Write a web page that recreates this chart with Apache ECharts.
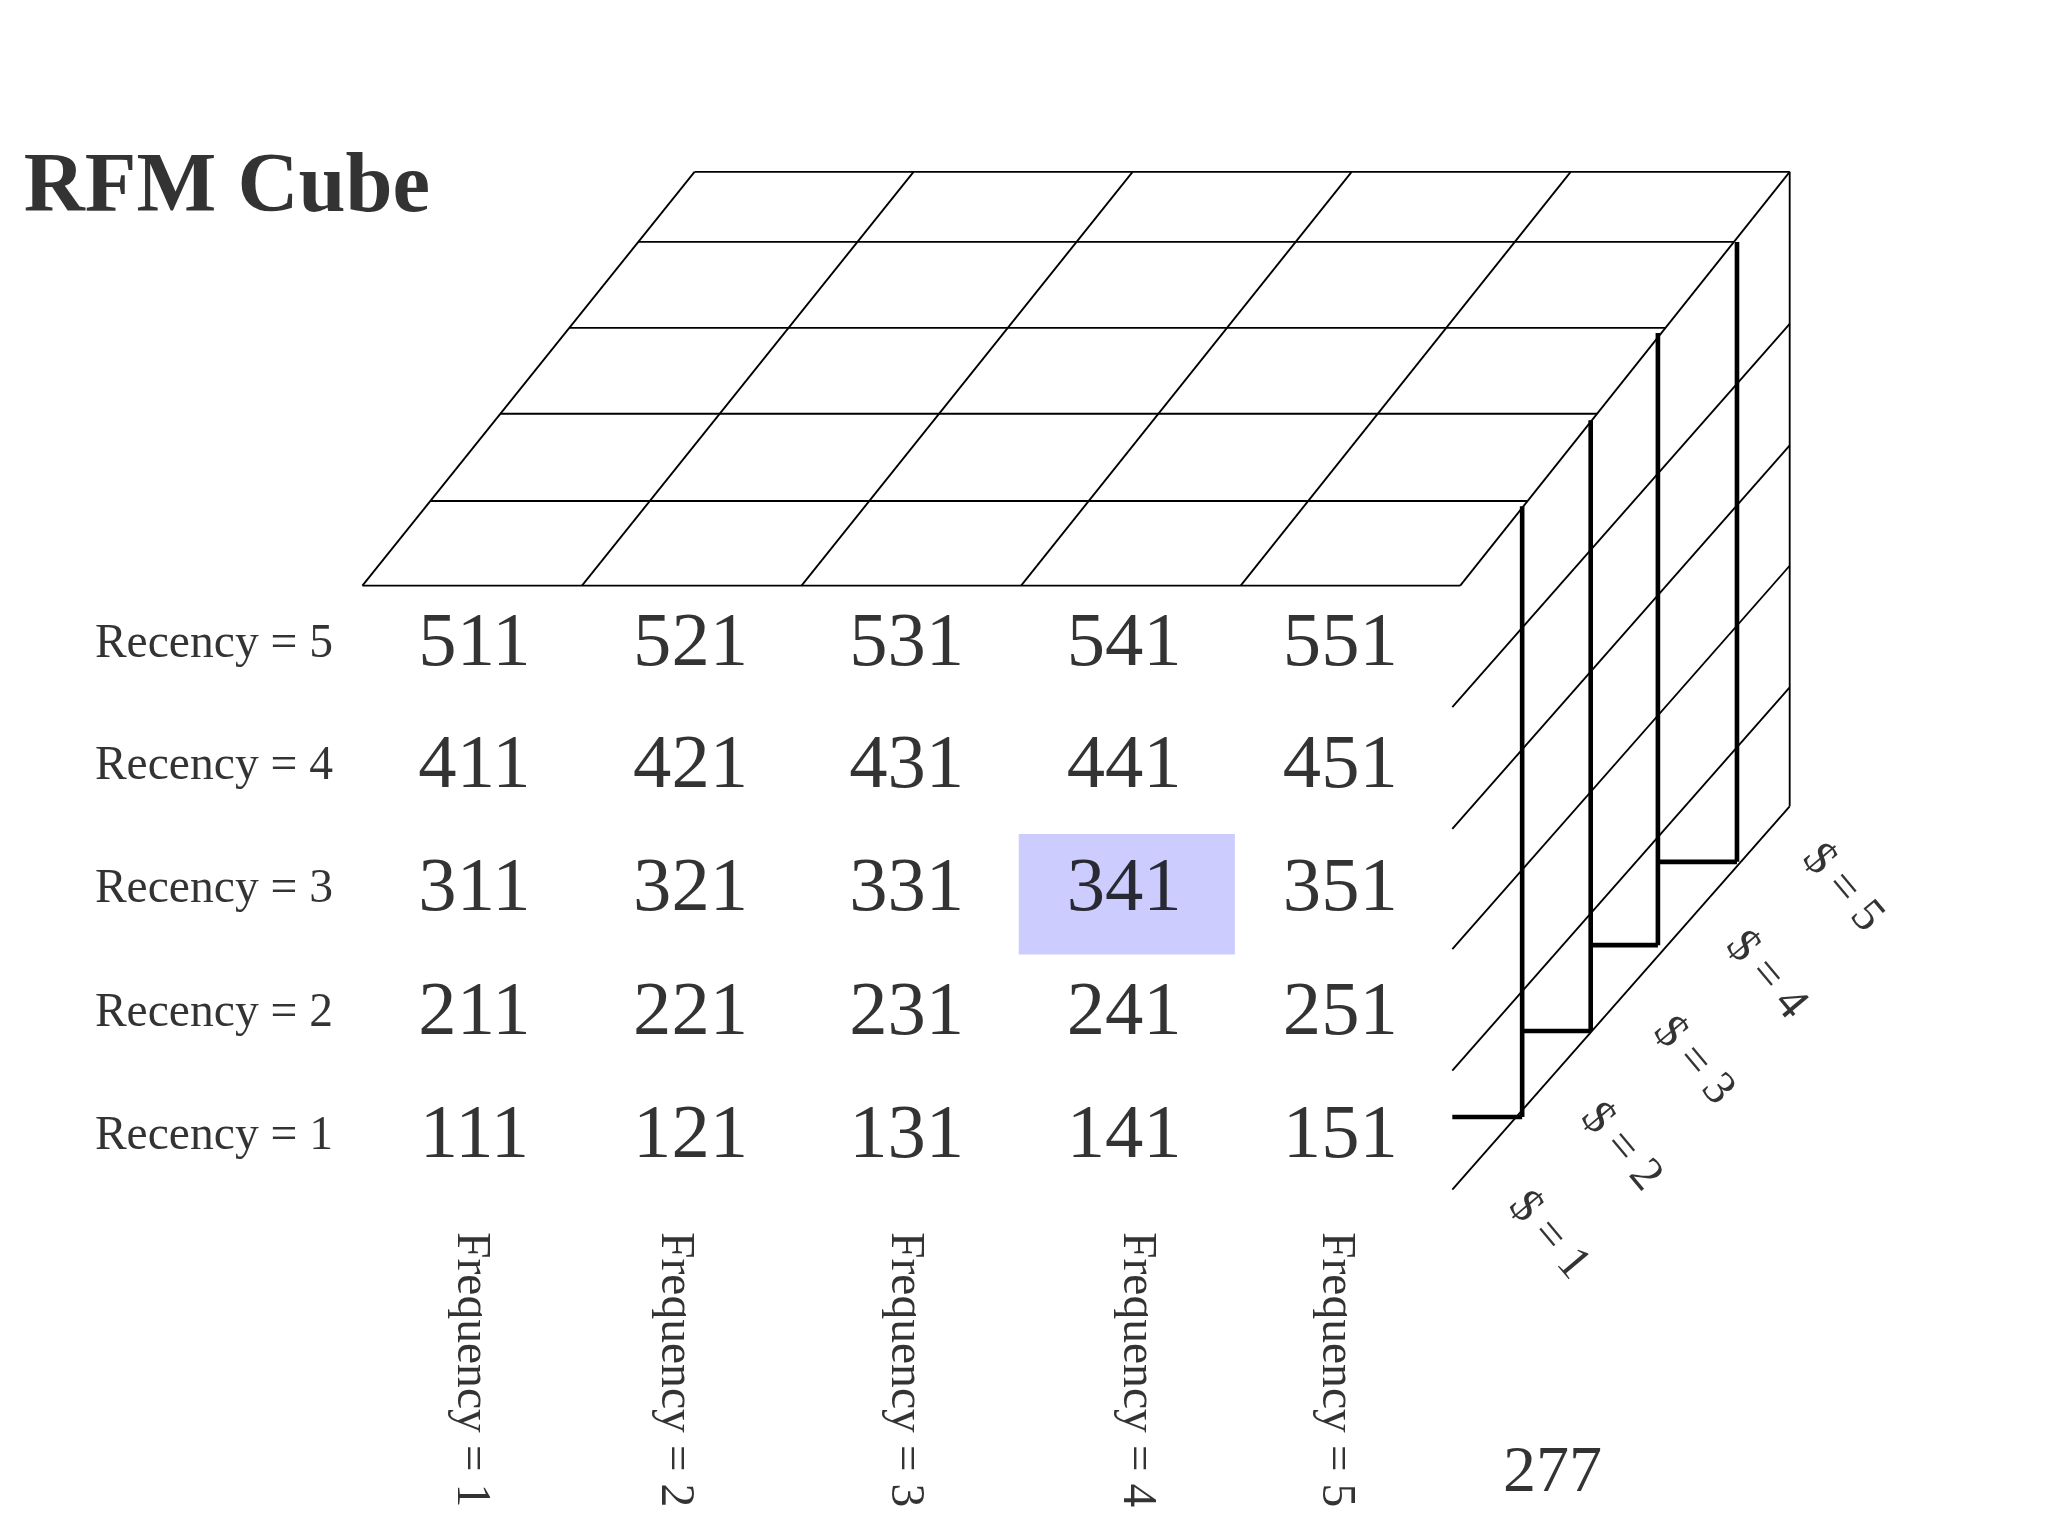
<!DOCTYPE html>
<html><head><meta charset="utf-8">
<script src="https://cdn.jsdelivr.net/npm/echarts@6/dist/echarts.min.js"></script>
<style>html,body{margin:0;background:#fff}#c{width:2048px;height:1536px}</style>
</head><body><div id="c"></div>
<script>
// cube labels
var recency = [5, 4, 3, 2, 1];
var frequency = [1, 2, 3, 4, 5];
var monetary = [1, 2, 3, 4, 5];
var highlight = '341';
var pageNo = '277';

// cube geometry (page units, 1554 x 1162)
var rowY = [443, 379, 313, 248, 183, 130];        // top face row edges front->back
var frontX = [275, 1108], backX = [527, 1358];
var cellX = [360, 524, 688, 853, 1017], cellY = [488, 580, 673, 767, 860];
var freqX = [357, 512, 686, 862, 1013];
var sideX = [1155, 1207, 1258, 1318, 1358], sideTop = [383, 318, 252, 183, 130], sideFoot = [845, 780, 715, 652, 610];
var diagLeftY = [535, 627, 718, 810, 900];
var dollarPos = [[1175, 935], [1230, 868], [1285, 803], [1340, 738], [1398, 672]];
var k = 1536 / 1162;
var serif = 'Liberation Serif';

function lerp(a, b, t) { return a + (b - a) * t; }
var lines = [];
// top face rows
for (var r = 0; r < rowY.length; r++) {
  var t = (rowY[0] - rowY[r]) / (rowY[0] - rowY[5]);
  lines.push([lerp(frontX[0], backX[0], t), rowY[r], lerp(frontX[1], backX[1], t), rowY[r], 1.4]);
}
// top face columns
for (var c = 0; c <= 5; c++) {
  lines.push([lerp(frontX[0], frontX[1], c / 5), rowY[0], lerp(backX[0], backX[1], c / 5), rowY[5], 1.4]);
}
// side face
for (var i = 0; i < 5; i++) {
  var w = i === 4 ? 1.4 : 3.5;
  lines.push([sideX[i], sideTop[i], sideX[i], sideFoot[i], w]);
  if (i < 4) lines.push([i === 0 ? 1102 : sideX[i - 1], sideFoot[i], sideX[i], sideFoot[i], 3.5]);
  lines.push([1102, diagLeftY[i], 1358, diagLeftY[i] - 290, 1.4]);
}

var cells = [], recLabels = [], freqLabels = [], dollarLabels = [];
recency.forEach(function (rv, ri) {
  frequency.forEach(function (fv, fi) {
    cells.push({ value: [cellX[fi], cellY[ri]], name: '' + rv + fv + '1' });
  });
  recLabels.push({ value: [72, cellY[ri] + 18], name: 'Recency = ' + rv });
});
frequency.forEach(function (fv, fi) { freqLabels.push({ value: [freqX[fi], 932], name: 'Frequency = ' + fv }); });
monetary.forEach(function (mv, mi) { dollarLabels.push({ value: dollarPos[mi], name: '$ = ' + mv }); });

function textSeries(data, size, opts) {
  return {
    type: 'scatter', symbolSize: 0, data: data, silent: true,
    label: Object.assign({ show: true, position: 'inside', formatter: '{b}', color: '#000',
      fontFamily: serif, fontSize: size * k }, opts || {})
  };
}

var chart = echarts.init(document.getElementById('c'));
chart.setOption({
  animation: false,
  grid: { left: 0, right: 0, top: 0, bottom: 0 },
  xAxis: { type: 'value', min: 0, max: 1554, show: false },
  yAxis: { type: 'value', min: 0, max: 1162, inverse: true, show: false },
  series: [
    {
      type: 'custom', silent: true, data: [highlight],
      renderItem: function (p, api) {
        var a = api.coord([773, 631]), b = api.coord([937, 722]);
        return { type: 'rect', shape: { x: a[0], y: a[1], width: b[0] - a[0], height: b[1] - a[1] }, style: { fill: '#ccccff' } };
      }
    },
    {
      type: 'custom', silent: true, data: lines,
      renderItem: function (p, api) {
        var a = api.coord([api.value(0), api.value(1)]), b = api.coord([api.value(2), api.value(3)]);
        return { type: 'line', shape: { x1: a[0], y1: a[1], x2: b[0], y2: b[1] }, style: { stroke: '#000', lineWidth: api.value(4) * k } };
      }
    },
    textSeries(cells, 58),
    textSeries(recLabels, 36, { align: 'left', verticalAlign: 'bottom' }),
    textSeries(freqLabels, 36, { rotate: -90, align: 'left', verticalAlign: 'middle' }),
    textSeries(dollarLabels, 36, { rotate: -50 }),
    textSeries([{ value: [18, 143], name: 'RFM Cube' }], 64, { align: 'left', fontWeight: 'bold' }),
    textSeries([{ value: [1178, 1115], name: pageNo }], 50)
  ]
});
</script></body></html>
